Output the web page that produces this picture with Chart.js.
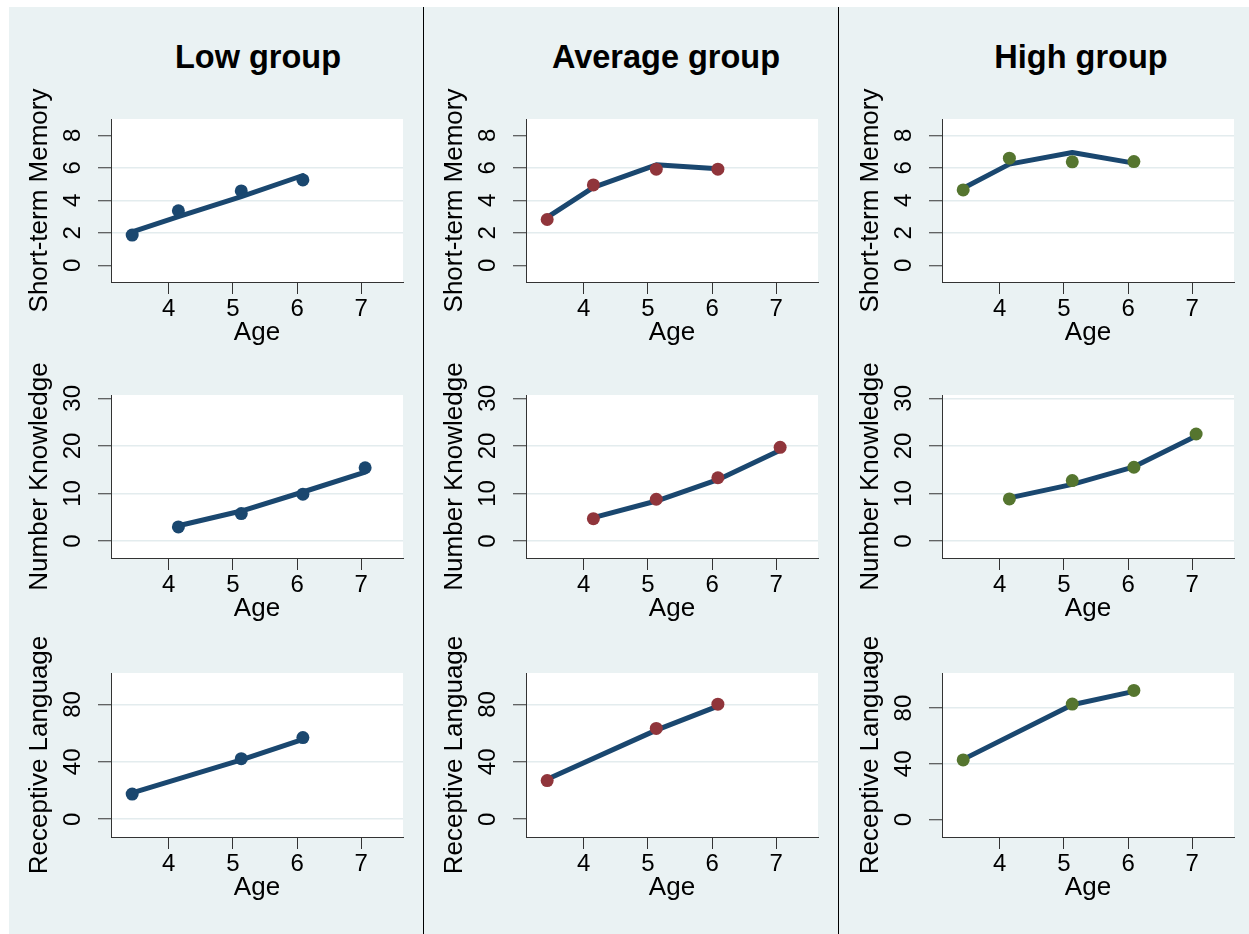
<!DOCTYPE html>
<html><head><meta charset="utf-8">
<script src="https://cdn.jsdelivr.net/npm/chart.js@4.4.1/dist/chart.umd.min.js"></script>
<style>
html,body{margin:0;padding:0;background:#fff;}
#bg{position:absolute;left:9px;top:7px;width:1240px;height:927px;background:#eaf2f3;}
.sep{position:absolute;top:7px;width:1px;height:927px;background:#000;}
.ttl{position:absolute;top:39px;height:40px;line-height:40px;font:bold 32.5px "Liberation Sans",Arial,sans-serif;white-space:nowrap;transform:translateX(-50%);color:#000;}
canvas{position:absolute;}
</style></head><body>
<div id="bg"></div>
<div class="sep" style="left:423px"></div>
<div class="sep" style="left:838px"></div>
<script>
// ---------- data ----------
const groups = ["Low group", "Average group", "High group"];
const measures = ["Short-term Memory", "Number Knowledge", "Receptive Language"];
const xTitle = "Age";
const ageTicks = [4, 5, 6, 7];
const smTicks = [0, 2, 4, 6, 8];
const nkTicks = [0, 10, 20, 30];
const rlTicks = [0, 40, 80];

const smAges = [3.43, 4.15, 5.13, 6.09];
const nkAges = [4.15, 5.13, 6.09, 7.06];
const rlAges = [3.43, 5.13, 6.09];

const lowSmObs = [1.86, 3.36, 4.58, 5.26];
const lowSmFit = [2.06, 2.99, 4.23, 5.53];
const lowNkObs = [2.95, 5.76, 9.84, 15.4];
const lowNkFit = [3.2, 6.3, 10.3, 14.5];
const lowRlObs = [17.5, 42.2, 56.9];
const lowRlFit = [18.4, 41.3, 55.7];

const avgSmObs = [2.82, 4.95, 5.92, 5.92];
const avgSmFit = [2.95, 4.8, 6.19, 5.95];
const avgNkObs = [4.7, 8.78, 13.3, 19.7];
const avgNkFit = [4.9, 8.4, 12.9, 19.1];
const avgRlObs = [26.9, 63.3, 80.2];
const avgRlFit = [27.8, 62.1, 78.8];

const highSmObs = [4.64, 6.6, 6.37, 6.39];
const highSmFit = [4.74, 6.23, 6.95, 6.29];
const highNkObs = [8.85, 12.7, 15.5, 22.5];
const highNkFit = [9.07, 11.9, 15.6, 22.1];
const highRlObs = [42.8, 82.9, 92.7];
const highRlFit = [43.2, 82.4, 92.0];

// ---------- styling / layout ----------
const FONT = '"Liberation Sans", Arial, sans-serif';
const NAVY = '#1a476f';
const markerColors = [NAVY, '#90353b', '#55752f'];
const plotLeft = [111, 526, 942];
const plotW = 292;
const plotTop = [119, 395, 673];
const plotH = [163, 163, 164];
const xRange = [3.1, 7.65];
const yRanges = [
  [[-1.03, 9.01], [-1.03, 9.01], [-1.03, 9.01]],
  [[-3.58, 30.7], [-3.58, 30.7], [-3.58, 30.7]],
  [[-12.4, 101.9], [-12.4, 101.9], [-12.5, 105.2]]
];
const gridShown = [
  [[2, 4, 6], [2, 4, 6], [2, 4, 6, 8]],
  [[0, 10, 20], [0, 10, 20], [0, 10, 20, 30]],
  [[0, 40, 80], [40, 80], [40, 80]]
];
const yTickPad = [17.6, 11, 11];

const rowTicks = [smTicks, nkTicks, rlTicks];
const rowAges = [smAges, nkAges, rlAges];
const obs = [
  [lowSmObs, avgSmObs, highSmObs],
  [lowNkObs, avgNkObs, highNkObs],
  [lowRlObs, avgRlObs, highRlObs]
];
const fit = [
  [lowSmFit, avgSmFit, highSmFit],
  [lowNkFit, avgNkFit, highNkFit],
  [lowRlFit, avgRlFit, highRlFit]
];

// titles
const titleX = [258, 666, 1081];
groups.forEach((g, c) => {
  const d = document.createElement('div');
  d.className = 'ttl';
  d.style.left = titleX[c] + 'px';
  d.textContent = g;
  document.body.appendChild(d);
});

Chart.defaults.font.family = FONT;
Chart.defaults.color = '#000';

const whiteArea = {
  id: 'whiteArea',
  beforeDraw(chart) {
    const {ctx, chartArea: a} = chart;
    ctx.save();
    ctx.fillStyle = '#ffffff';
    ctx.fillRect(a.left, a.top, a.right - a.left, a.bottom - a.top);
    ctx.restore();
  }
};

const YW = 100, PADT = 45, PADR = 8, XH = 75;

for (let r = 0; r < 3; r++) {
  for (let c = 0; c < 3; c++) {
    const cv = document.createElement('canvas');
    const w = YW + plotW + PADR;
    const h = PADT + plotH[r] + XH;
    cv.width = w; cv.height = h;
    cv.style.width = w + 'px'; cv.style.height = h + 'px';
    cv.style.left = (plotLeft[c] - YW) + 'px';
    cv.style.top = (plotTop[r] - PADT) + 'px';
    document.body.appendChild(cv);

    const ages = rowAges[r];
    const ticksY = rowTicks[r];
    const shown = gridShown[r][c];

    new Chart(cv.getContext('2d'), {
      type: 'line',
      data: {
        datasets: [
          {
            data: ages.map((a, i) => ({x: a, y: obs[r][c][i]})),
            showLine: false,
            pointRadius: 6.5,
            pointHoverRadius: 6.5,
            pointBorderWidth: 0,
            pointBackgroundColor: markerColors[c],
            pointBorderColor: markerColors[c],
            order: 0
          },
          {
            data: ages.map((a, i) => ({x: a, y: fit[r][c][i]})),
            borderColor: NAVY,
            borderWidth: 5,
            borderCapStyle: 'round',
            borderJoinStyle: 'round',
            pointRadius: 0,
            tension: 0,
            fill: false,
            order: 1
          }
        ]
      },
      options: {
        responsive: false,
        animation: false,
        devicePixelRatio: 1,
        layout: {padding: {top: PADT, right: PADR, left: 0, bottom: 0}},
        plugins: {legend: {display: false}, tooltip: {enabled: false}},
        scales: {
          x: {
            type: 'linear',
            min: xRange[0], max: xRange[1],
            afterBuildTicks: s => { s.ticks = ageTicks.map(v => ({value: v})); },
            afterFit: s => { s.height = XH; },
            grid: {drawOnChartArea: false, drawTicks: true, tickLength: 12, tickColor: '#333', tickWidth: 1},
            border: {display: true, color: '#333', width: 1},
            ticks: {font: {size: 24}, color: '#000', padding: 1, maxRotation: 0, autoSkip: false, callback: v => String(v)},
            title: {display: true, text: xTitle, font: {size: 26}, color: '#000', padding: {top: 0, bottom: 8.4}}
          },
          y: {
            type: 'linear',
            min: yRanges[r][c][0], max: yRanges[r][c][1],
            afterBuildTicks: s => { s.ticks = ticksY.map(v => ({value: v})); },
            afterFit: s => { s.width = YW; },
            grid: {
              drawOnChartArea: true,
              color: ctx => (ctx.tick && shown.includes(ctx.tick.value)) ? '#e3ecee' : 'rgba(0,0,0,0)',
              lineWidth: 1.5,
              drawTicks: true, tickLength: 13, tickColor: '#333', tickWidth: 1
            },
            border: {display: true, color: '#333', width: 1},
            ticks: {font: {size: 24}, color: '#000', padding: yTickPad[r], minRotation: 90, maxRotation: 90, crossAlign: 'center', autoSkip: false, callback: v => String(v)},
            title: {display: true, text: measures[r], font: {size: 26}, color: '#000', padding: {top: 13.4, bottom: 0}}
          }
        }
      },
      plugins: [whiteArea]
    });
  }
}
</script>
</body></html>
